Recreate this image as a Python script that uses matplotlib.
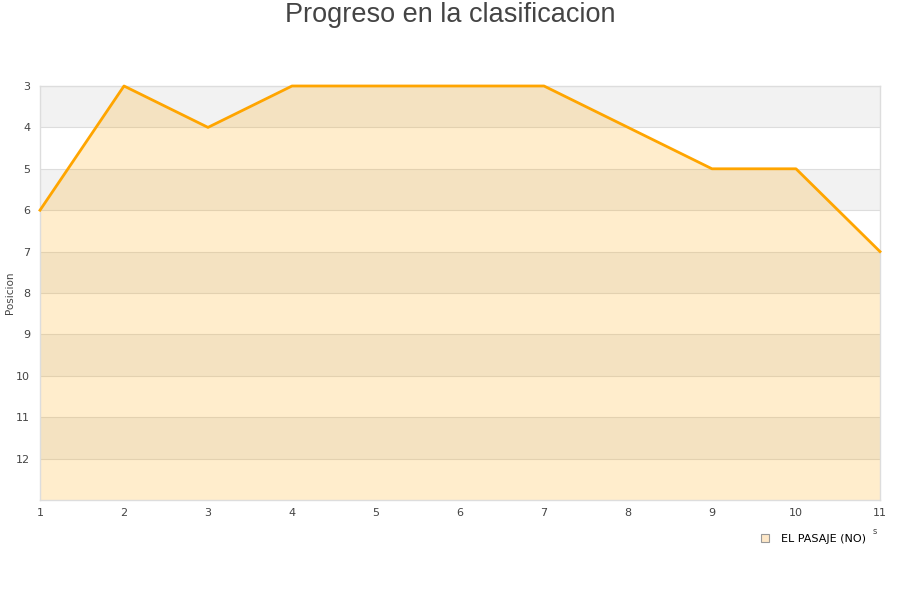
import matplotlib
matplotlib.use("Agg")
import matplotlib.pyplot as plt
from matplotlib.lines import Line2D

jornadas = [1, 2, 3, 4, 5, 6, 7, 8, 9, 10, 11]
posicion = [6, 3, 4, 3, 3, 3, 3, 4, 5, 5, 7]
yticks = [3, 4, 5, 6, 7, 8, 9, 10, 11, 12]
team = "EL PASAJE (NO)"

fig = plt.figure(figsize=(9, 6), dpi=100)
ax = fig.add_axes([40/900, 1-500/600, 840/900, 414/600])

ax.set_xlim(1, 11)
ax.set_ylim(13, 3)

# alternating bands
for i, y in enumerate(range(3, 13)):
    if i % 2 == 0:
        ax.axhspan(y, y+1, color="#f2f2f2", zorder=0, lw=0)
for y in range(4, 13):
    ax.axhline(y, color="#dddddd", lw=0.8, zorder=1)

ax.fill_between(jornadas, posicion, 13, color="#FFA500", alpha=0.2, lw=0, zorder=2)
ax.plot(jornadas, posicion, color="#FFA500", lw=2, zorder=3, clip_on=False)

ax.set_xticks(jornadas)
ax.set_yticks(yticks)
ax.tick_params(axis="both", length=0, labelsize=8, colors="#444444")
ax.tick_params(axis="x", pad=6)
ax.tick_params(axis="y", pad=7)
for s in ["left", "top", "right", "bottom"]:
    ax.spines[s].set_color("#dddddd")
    ax.spines[s].set_linewidth(1)

fig.text(10/900, 1-293/600, "Posicion", rotation=90, ha="center", va="center",
         fontsize=7.5, color="#444444")

fig.text(0.5, 1-15/600, "Progreso en la clasificacion", ha="center", va="center",
         fontsize=19.5, color="#444444", family="Liberation Sans")

# clipped axis-title fragment visible in the reference
fig.text(875/900, 1-531/600, "s", ha="center", va="center", fontsize=6, color="#444444")

handle = Line2D([], [], marker="s", ls="none", markersize=6,
                markerfacecolor="#fee8c8", markeredgecolor="#999999", markeredgewidth=0.8)
fig.legend([handle], [team], loc="center", bbox_to_anchor=(810/900, 1-539/600),
           frameon=False, fontsize=8, handletextpad=0.4)

fig.savefig("out.png", dpi=100)
